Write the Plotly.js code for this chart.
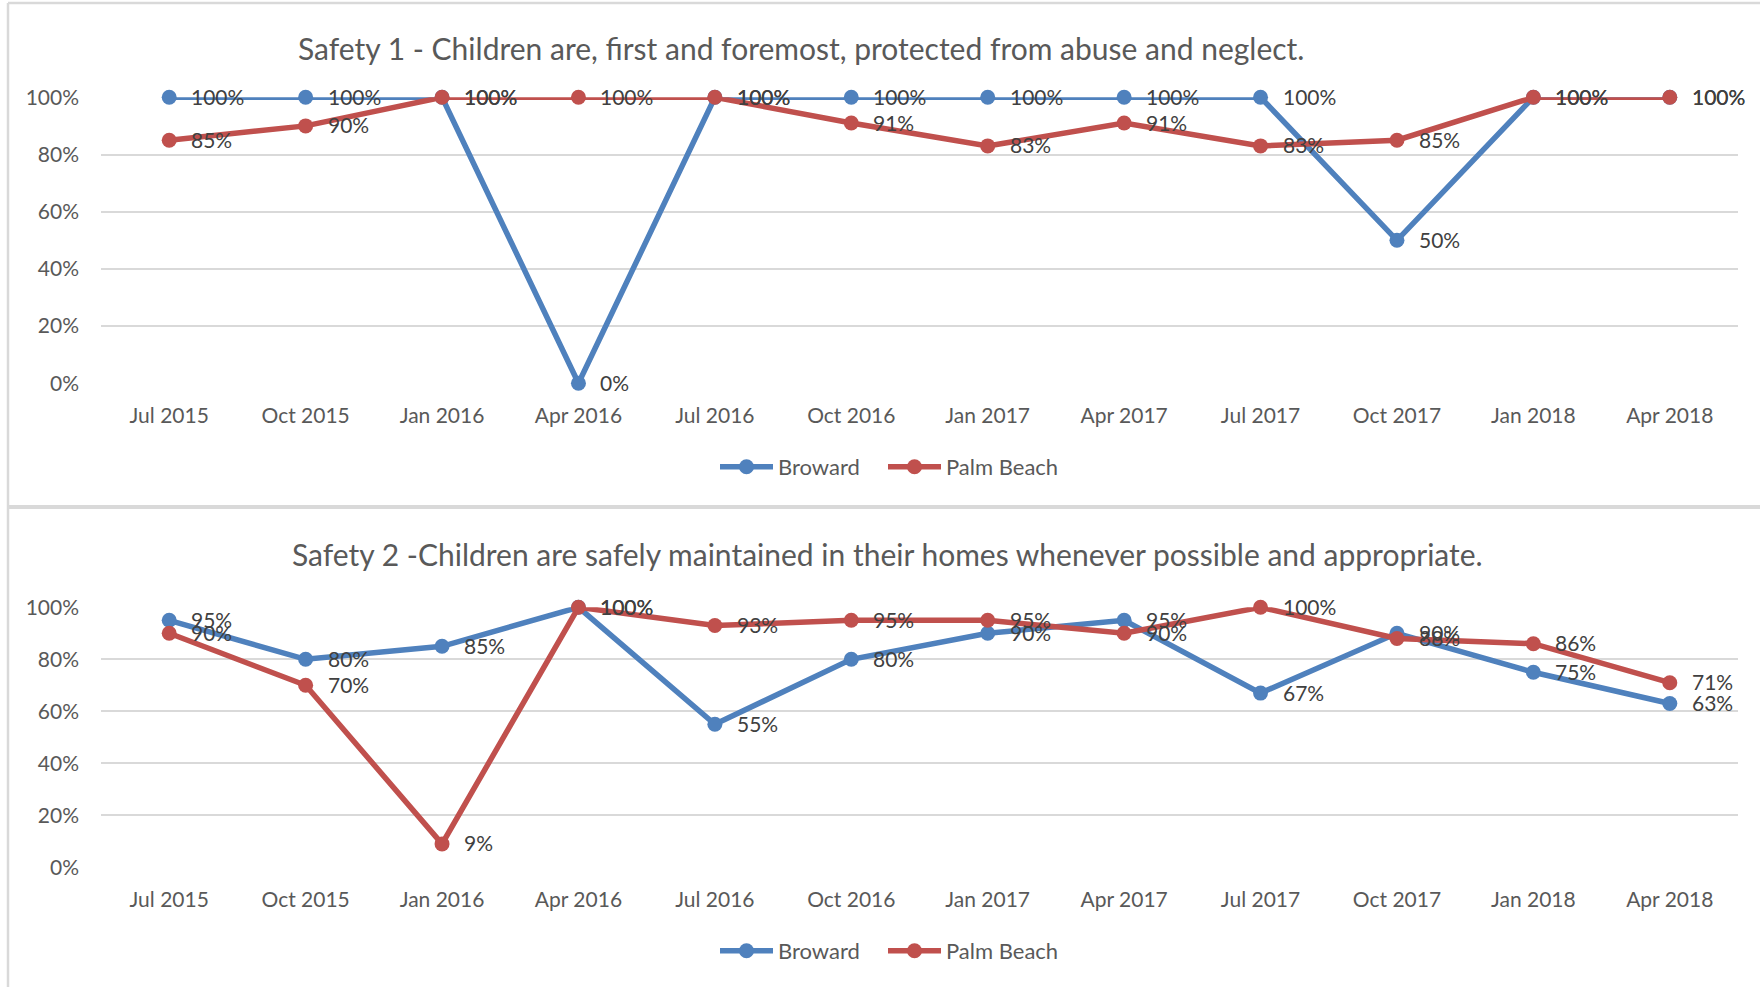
<!DOCTYPE html>
<html>
<head>
<meta charset="utf-8">
<script src="https://cdn.plot.ly/plotly-3.0.1.min.js"></script>
<style>
html,body{margin:0;padding:0;background:#fff;}
#chart{width:1760px;height:987px;}
</style>
</head>
<body>
<div id="chart"></div>
<script>
// ---- data ----
const categories = ["Jul 2015","Oct 2015","Jan 2016","Apr 2016","Jul 2016","Oct 2016","Jan 2017","Apr 2017","Jul 2017","Oct 2017","Jan 2018","Apr 2018"];
const seriesNames = ["Broward","Palm Beach"];
const safety1Broward   = [100,100,100,0,100,100,100,100,100,50,100,100];
const safety1PalmBeach = [85,90,100,100,100,91,83,91,83,85,100,100];
const safety2Broward   = [95,80,85,100,55,80,90,95,67,90,75,63];
const safety2PalmBeach = [90,70,9,100,93,95,95,90,100,88,86,71];
const title1 = "Safety 1 - Children are, first and foremost, protected from abuse and neglect.";
const title2 = "Safety 2 -Children are safely maintained in their homes whenever possible and appropriate.";
const yTicks = [0,20,40,60,80,100];
const yTickLabels = ["0%","20%","40%","60%","80%","100%"];

// ---- style ----
const W = 1760, H = 987;
const BLUE = "#4F81BD", RED = "#C0504D";
const FONT = "Lato, 'Open Sans', sans-serif";
const px = v => v / W;
const py = v => 1 - v / H;

function lineTrace(y, name, color, xa, ya, legend) {
  return {
    type: "scatter", mode: "lines+markers", x: categories, y: y, name: name,
    xaxis: xa, yaxis: ya, legend: legend, showlegend: true,
    line: {color: color, width: 5.5},
    marker: {color: color, size: 15},
    cliponaxis: false, hoverinfo: "skip"
  };
}
function labelAnnotations(y, xa, ya) {
  return y.map((v, i) => ({
    x: categories[i], y: v, xref: xa, yref: ya,
    text: v + "%", showarrow: false,
    xanchor: "left", yanchor: "middle", xshift: 20, yshift: 1,
    font: {family: FONT, size: 21, color: "#404040"}
  }));
}

const data = [
  lineTrace(safety1Broward, seriesNames[0], BLUE, "x", "y", "legend"),
  lineTrace(safety1PalmBeach, seriesNames[1], RED, "x", "y", "legend3"),
  lineTrace(safety2Broward, seriesNames[0], BLUE, "x2", "y2", "legend2"),
  lineTrace(safety2PalmBeach, seriesNames[1], RED, "x2", "y2", "legend4")
];

const xaxisBase = {
  type: "category", range: [-0.5, 11.5], domain: [px(101), px(1738)],
  showgrid: false, zeroline: false, showline: false, ticks: "",
  tickfont: {family: FONT, size: 21, color: "#595959"},
  ticklabelstandoff: 18, fixedrange: true
};
const yaxisBase = {
  range: [0, 100], tickmode: "array", tickvals: yTicks, ticktext: yTickLabels,
  showgrid: true, gridcolor: "#D9D9D9", gridwidth: 2,
  zeroline: false, showline: false, ticks: "",
  tickfont: {family: FONT, size: 21, color: "#595959"},
  ticklabelstandoff: 21, fixedrange: true
};
const legendBase = {
  orientation: "h", xanchor: "left", yanchor: "middle",
  font: {family: FONT, size: 22, color: "#595959"},
  bgcolor: "rgba(0,0,0,0)", itemwidth: 53,
  itemclick: false, itemdoubleclick: false
};

const border = "#D9D9D9";
const layout = {
  width: W, height: H,
  margin: {l: 0, r: 0, t: 0, b: 0},
  paper_bgcolor: "#fff", plot_bgcolor: "rgba(0,0,0,0)",
  xaxis: Object.assign({}, xaxisBase, {anchor: "y"}),
  yaxis: Object.assign({}, yaxisBase, {anchor: "x", domain: [py(383.3), py(97.3)]}),
  xaxis2: Object.assign({}, xaxisBase, {anchor: "y2"}),
  yaxis2: Object.assign({}, yaxisBase, {anchor: "x2", domain: [py(867.3), py(607.3)]}),
  legend:  Object.assign({}, legendBase, {x: px(715), y: py(467)}),
  legend3: Object.assign({}, legendBase, {x: px(883), y: py(467)}),
  legend2: Object.assign({}, legendBase, {x: px(715), y: py(951)}),
  legend4: Object.assign({}, legendBase, {x: px(883), y: py(951)}),
  annotations: [
    {text: title1, xref: "paper", yref: "paper", x: px(801), y: py(48), xanchor: "center", yanchor: "middle",
     showarrow: false, font: {family: FONT, size: 30, color: "#595959"}},
    {text: title2, xref: "paper", yref: "paper", x: px(887), y: py(554), xanchor: "center", yanchor: "middle",
     showarrow: false, font: {family: FONT, size: 30, color: "#595959"}}
  ].concat(
    labelAnnotations(safety1Broward, "x", "y"),
    labelAnnotations(safety1PalmBeach, "x", "y"),
    labelAnnotations(safety2Broward, "x2", "y2"),
    labelAnnotations(safety2PalmBeach, "x2", "y2")
  ),
  shapes: [
    {type: "line", xref: "paper", yref: "paper", x0: px(8), x1: px(8), y0: py(3), y1: 0, line: {color: border, width: 2.5}},
    {type: "line", xref: "paper", yref: "paper", x0: px(8), x1: 1, y0: py(3), y1: py(3), line: {color: border, width: 2.5}},
    {type: "line", xref: "paper", yref: "paper", x0: px(8), x1: 1, y0: py(507), y1: py(507), line: {color: border, width: 4}}
  ]
};

Plotly.newPlot("chart", data, layout, {displayModeBar: false, staticPlot: true});
</script>
</body>
</html>
